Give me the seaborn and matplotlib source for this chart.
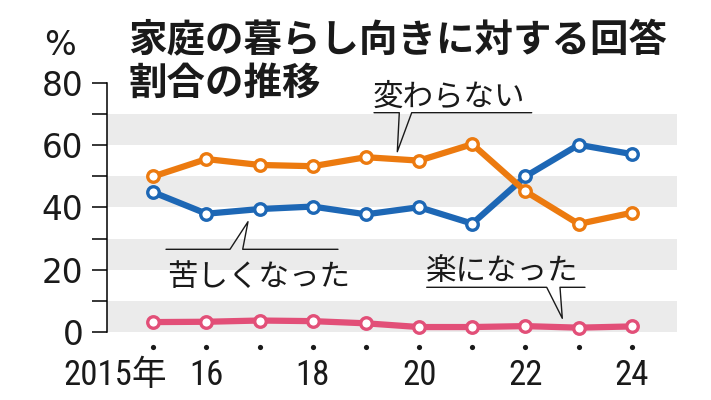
import matplotlib
matplotlib.use("Agg")
import matplotlib.pyplot as plt
import matplotlib.transforms as mtrans
from matplotlib import font_manager as fm
from matplotlib.lines import Line2D
import seaborn as sns
import pandas as pd

# ---- data ----
years = [2015, 2016, 2017, 2018, 2019, 2020, 2021, 2022, 2023, 2024]
kurushiku = [44.9, 38.0, 39.5, 40.3, 37.8, 40.1, 34.8, 50.0, 60.2, 57.2]   # 苦しくなった
kawaranai = [50.0, 55.6, 53.7, 53.3, 56.2, 55.1, 60.4, 45.2, 34.7, 38.3]   # 変わらない
raku = [3.1, 3.2, 3.6, 3.4, 2.7, 1.5, 1.5, 1.8, 1.3, 1.7]                  # 楽になった
series_names = ["楽になった", "苦しくなった", "変わらない"]
series_colors = ["#E24F78", "#1D67B5", "#EC7A0F"]
xtick_labels = ["2015年", "16", "", "18", "", "20", "", "22", "", "24"]
ytick_major = [0, 20, 40, 60, 80]
ytick_minor = [10, 30, 50, 70]
title_lines = ["家庭の暮らし向きに対する回答", "割合の推移"]

sns.set_theme(style="white")
CJK = "Noto Sans CJK JP"
plt.rcParams["font.family"] = ["DejaVu Sans", CJK]


def pick_narrow():
    for fam in ["Liberation Sans Narrow", "Roboto Condensed", "DejaVu Sans Condensed"]:
        try:
            fm.findfont(fm.FontProperties(family=fam), fallback_to_default=False)
            return fam
        except Exception:
            pass
    return "Liberation Sans"


NARROW = pick_narrow()

W, H = 711, 400
fig = plt.figure(figsize=(W / 100, H / 100), dpi=100)
fig.patch.set_facecolor("white")


def fx(x):
    return x / W


def fy(y):
    return 1 - y / H


ax_left, ax_right, ax_top, ax_bot = 106.7, 677.0, 83.3, 331.7
ax = fig.add_axes([fx(ax_left), fy(ax_bot), (ax_right - ax_left) / W, (ax_bot - ax_top) / H])
ax.set_facecolor("white")

# alternating grey bands
for lo in ytick_minor:
    ax.axhspan(lo - 10, lo, color="#EBEBEB", lw=0, zorder=0)

df = pd.DataFrame({
    "year": years * 3,
    "value": raku + kurushiku + kawaranai,
    "series": [series_names[0]] * len(years) + [series_names[1]] * len(years) + [series_names[2]] * len(years),
})

for name, color in zip(series_names, series_colors):
    sub = df[df["series"] == name]
    sns.lineplot(data=sub, x="year", y="value", ax=ax, color=color, lw=4.5,
                 marker="o", markersize=8.3, markerfacecolor="white",
                 markeredgecolor=color, markeredgewidth=2.4,
                 errorbar=None, legend=False, zorder=3, clip_on=False)

ax.set_xlim(2014.124, 2024.85)
ax.set_ylim(0, 80)
ax.set_xlabel("")
ax.set_ylabel("")

for s in ["top", "right", "bottom"]:
    ax.spines[s].set_visible(False)
ax.spines["left"].set_color("black")
ax.spines["left"].set_linewidth(1.1)

ax.set_yticks(ytick_major)
ax.set_yticks(ytick_minor, minor=True)
ax.set_yticklabels([str(v) for v in ytick_major])
ax.tick_params(axis="y", which="both", left=True, direction="out", length=10.8,
               width=1.1, color="black")
ax.tick_params(axis="y", which="major", labelsize=23.5, pad=6, labelcolor="#1a1a1a")
for t in ax.get_yticklabels():
    t.set_fontfamily("DejaVu Sans")

ax.set_xticks(years)
ax.set_xticklabels(xtick_labels)
ax.tick_params(axis="x", which="both", bottom=False, length=0, pad=20, labelsize=25,
               labelcolor="#1a1a1a")
for t in ax.get_xticklabels():
    t.set_fontfamily([NARROW, CJK])
first = ax.get_xticklabels()[0]
first.set_ha("right")
first.set_transform(first.get_transform() + mtrans.ScaledTranslation(13.4 / 100, 0, fig.dpi_scale_trans))

# small dots below each year
ax.scatter(years, [-0.063] * len(years), transform=ax.get_xaxis_transform(),
           s=14, color="#1a1a1a", clip_on=False, zorder=4, linewidths=0)

# title and unit
fig.text(fx(128), fy(52.5), title_lines[0], fontsize=27.7, fontweight="bold",
         family=CJK, color="#1a1a1a", va="baseline", ha="left")
fig.text(fx(128), fy(94.5), title_lines[1], fontsize=27.7, fontweight="bold",
         family=CJK, color="#1a1a1a", va="baseline", ha="left")
fig.text(fx(44), fy(55), "%", fontsize=24, family="DejaVu Sans", color="#1a1a1a",
         va="baseline", ha="left")


def callout(pts, text, tx, ty):
    xs = [fx(p[0]) for p in pts]
    ys = [fy(p[1]) for p in pts]
    fig.add_artist(Line2D(xs, ys, transform=fig.transFigure, color="#1a1a1a", lw=1.0))
    fig.text(fx(tx), fy(ty), text, fontsize=22, family=CJK, color="#1a1a1a",
             va="baseline", ha="left")


callout([(374, 112.7), (399.3, 112.7), (397.3, 151.7), (411.7, 112.7), (531.7, 112.7)],
        series_names[2], 373, 105.5)
callout([(166, 249.3), (230, 249.3), (248, 221.7), (242.7, 249.3), (338, 249.3)],
        series_names[1], 167, 285.5)
callout([(426.7, 287.3), (546.7, 287.3), (562.3, 318.3), (560, 287.3), (585, 287.3)],
        series_names[0], 426, 280.5)

fig.savefig("out.png", dpi=100, facecolor="white")
